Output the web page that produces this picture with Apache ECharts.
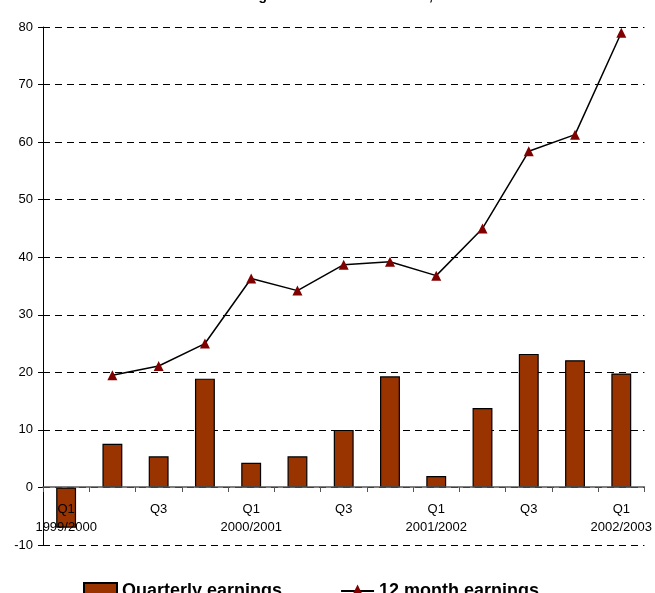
<!DOCTYPE html>
<html>
<head>
<meta charset="utf-8">
<script src="https://cdn.jsdelivr.net/npm/echarts@6/dist/echarts.min.js"></script>
<style>html,body{margin:0;padding:0;background:#fff}#c{width:655px;height:593px}</style>
</head>
<body>
<div id="c"></div>
<script>
var titleText = 'Earnings before interest and tax, NOK million';
var categories = ['Q1\n1999/2000','Q2 1999/2000','Q3','Q4 1999/2000','Q1\n2000/2001','Q2 2000/2001','Q3','Q4 2000/2001','Q1\n2001/2002','Q2 2001/2002','Q3','Q4 2001/2002','Q1\n2002/2003'];
var tickLabels = ['Q1\n1999/2000','','Q3','','Q1\n2000/2001','','Q3','','Q1\n2001/2002','','Q3','','Q1\n2002/2003'];
var quarterly = [-7, 7.6, 5.4, 18.9, 4.3, 5.4, 10.0, 19.3, 2.0, 13.8, 23.2, 22.1, 19.8];
var twelveMonth = [null, 19.5, 21.1, 25.0, 36.3, 34.2, 38.7, 39.2, 36.8, 45.0, 58.4, 61.3, 79.0];
var seriesNames = ['Quarterly earnings', '12 month earnings'];

var chart = echarts.init(document.getElementById('c'), null, {renderer: 'canvas'});
var font = 'Liberation Sans, Arial, sans-serif';
chart.setOption({
  animation: false,
  backgroundColor: '#fff',
  textStyle: {fontFamily: font},
  title: {
    text: titleText, left: 210, top: -16,
    textStyle: {fontSize: 14, fontWeight: 'bold', color: '#000', fontFamily: font}
  },
  legend: {
    top: 577, left: 78,
    itemGap: 58, itemWidth: 33, itemHeight: 16,
    textStyle: {fontSize: 18, fontWeight: 'bold', color: '#000', fontFamily: font},
    data: [{name: seriesNames[0], icon: 'rect'}, {name: seriesNames[1]}]
  },
  grid: {left: 43, right: 10, top: 27, bottom: 48, containLabel: false},
  xAxis: {
    type: 'category', data: categories, boundaryGap: true,
    offset: -58, z: 5,
    axisLine: {onZero: false, lineStyle: {color: '#555', width: 1.5}},
    axisTick: {show: true, length: 5, lineStyle: {color: '#555'}},
    axisLabel: {
      interval: 0, margin: 13, fontSize: 13, lineHeight: 18, color: '#000', fontFamily: font,
      formatter: function (v, i) { return tickLabels[i]; }
    },
    splitLine: {show: false}
  },
  yAxis: {
    type: 'value', min: -10, max: 80, interval: 10,
    axisLine: {show: true, lineStyle: {color: '#000', width: 1}},
    axisTick: {show: true, length: 5, lineStyle: {color: '#000'}},
    axisLabel: {fontSize: 13, color: '#000', margin: 10, fontFamily: font},
    splitLine: {show: true, lineStyle: {color: '#000', type: [7, 5], width: 1}}
  },
  series: [
    {
      name: seriesNames[0], type: 'bar', data: quarterly, barWidth: '43%',
      itemStyle: {color: '#993300', borderColor: '#000', borderWidth: 1.2}
    },
    {
      name: seriesNames[1], type: 'line', data: twelveMonth, z: 6,
      symbol: 'triangle', symbolSize: 10, showAllSymbol: true,
      itemStyle: {color: '#800000'},
      lineStyle: {color: '#000', width: 1.5}
    }
  ]
});
</script>
</body>
</html>
